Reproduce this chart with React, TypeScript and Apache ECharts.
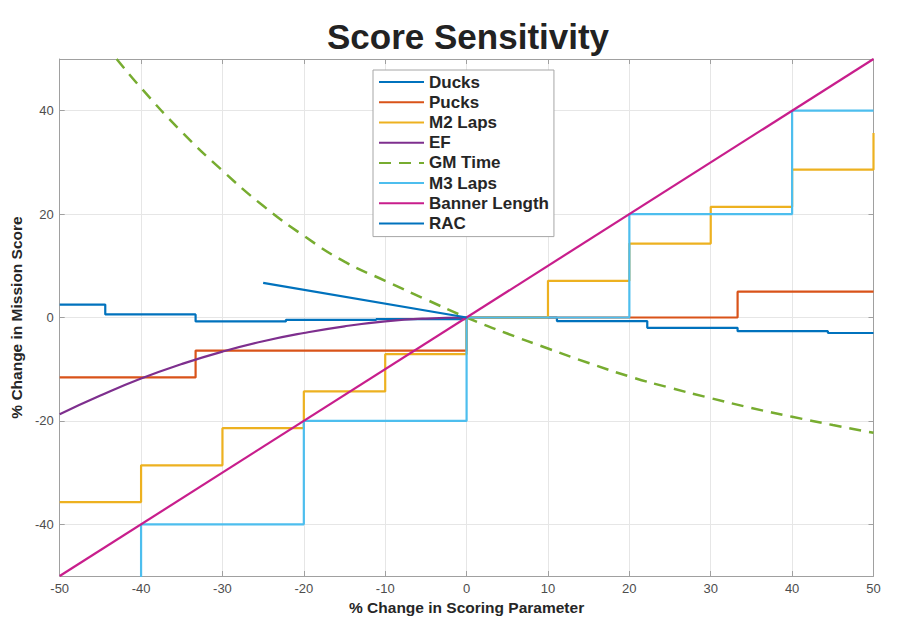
import React, { useEffect, useRef } from "react";
import * as echarts from "echarts";

// ---- data ----
const seriesNames = ["Ducks", "Pucks", "M2 Laps", "EF", "GM Time", "M3 Laps", "Banner Length", "RAC"];

const ducksX = [-50, -44.4, -33.3, -22.2, -11.1, 0, 11.1, 22.2, 33.3, 44.4, 50];
const ducksY = [2.5, 0.6, -0.75, -0.45, -0.3, 0, -0.7, -2.0, -2.65, -3.0, -3.0];

const pucksX = [-50, -33.3, 0, 33.3, 50];
const pucksY = [-11.6, -6.4, 0, 5.0, 5.0];

const m2X = [-50, -40, -30, -20, -10, 0, 10, 20, 30, 40, 50];
const m2Y = [-35.7, -28.6, -21.4, -14.3, -7.1, 0, 7.1, 14.3, 21.4, 28.6, 35.7];

const efX = [-50, -45, -40, -35, -30, -25, -20, -15, -10, -5, 0];
const efY = [-18.7, -15.1, -11.8, -9.0, -6.6, -4.6, -3.0, -1.7, -0.75, -0.2, 0];

const gmX = [-43, -40, -35, -30, -25, -20, -15, -10, -5, 0, 5, 10, 15, 20, 25, 30, 35, 40, 45, 50];
const gmY = [50, 44.4, 35.9, 28.4, 21.6, 15.8, 10.8, 7.1, 3.5, 0, -3.1, -6.0, -8.8, -11.4, -13.6, -15.6, -17.5, -19.2, -20.8, -22.3];

const m3X = [-50, -40, -20, 0, 20, 40, 50];
const m3Y = [-60, -40, -20, 0, 20, 40, 40];

const bannerX = [-50, 50];
const bannerY = [-50, 50];

const racX = [-25, 0];
const racY = [6.7, 0];

const xTicks = [-50, -40, -30, -20, -10, 0, 10, 20, 30, 40, 50];
const yTicks = [-40, -20, 0, 20, 40];

const colors = ["#0072BD", "#D95319", "#EDB120", "#7E2F8E", "#77AC30", "#4DBEEE", "#C81E8C", "#0072BD"];

const pts = (xs: number[], ys: number[]) => xs.map((x, i) => [x, ys[i]]);

export default function App() {
  const ref = useRef<HTMLDivElement>(null);
  useEffect(() => {
    document.body.style.margin = "0";
    const chart = echarts.init(ref.current!, null, { renderer: "svg" });
    const font = '"Liberation Sans", Arial, Helvetica, sans-serif';
    const axisGray = "#a0a0a0";
    const gridGray = "#e6e6e6";
    const dataSets = [
      { x: ducksX, y: ducksY, step: "end" },
      { x: pucksX, y: pucksY, step: "end" },
      { x: m2X, y: m2Y, step: "end" },
      { x: efX, y: efY, smooth: true },
      { x: gmX, y: gmY, smooth: true, dashed: true },
      { x: m3X, y: m3Y, step: "end" },
      { x: bannerX, y: bannerY },
      { x: racX, y: racY },
    ];
    const series = dataSets.map((d: any, i) => ({
      name: seriesNames[i],
      type: "line",
      xAxisIndex: 0,
      yAxisIndex: 0,
      data: pts(d.x, d.y),
      step: d.step || false,
      smooth: d.smooth || false,
      symbol: "none",
      clip: true,
      color: colors[i],
      lineStyle: {
        color: colors[i],
        width: d.dashed ? 2.5 : 2.2,
        type: d.dashed ? [12, 8] : "solid",
      },
    }));
    chart.setOption({
      animation: false,
      backgroundColor: "#ffffff",
      textStyle: { fontFamily: font },
      title: {
        text: "Score Sensitivity",
        left: 322,
        top: 14,
        textStyle: { fontSize: 35, fontWeight: "bold", color: "#222222", fontFamily: font },
      },
      grid: { left: 55, right: 48.5, top: 59, bottom: 58, containLabel: false },
      legend: {
        data: seriesNames,
        orient: "vertical",
        left: 373,
        top: 70,
        padding: [2, 5, 3, 5],
        itemGap: 0,
        itemWidth: 45,
        itemHeight: 10,
        backgroundColor: "#ffffff",
        borderColor: "#a6a6a6",
        borderWidth: 1,
        itemStyle: { opacity: 0, borderWidth: 0 },
        textStyle: { fontSize: 17, lineHeight: 20.2, fontWeight: "bold", color: "#262626", fontFamily: font },
      },
      xAxis: [
        {
          type: "value",
          position: "bottom",
          min: -50,
          max: 50,
          interval: 10,
          name: "% Change in Scoring Parameter",
          nameLocation: "middle",
          nameGap: 22,
          nameTextStyle: { fontSize: 15.5, fontWeight: "bold", color: "#262626" },
          axisLine: { show: true, onZero: false, lineStyle: { color: axisGray } },
          axisTick: { show: true, inside: true, length: 5, lineStyle: { color: axisGray } },
          axisLabel: { color: "#4d4d4d", fontSize: 13, margin: 6, customValues: xTicks },
          splitLine: { show: true, lineStyle: { color: gridGray } },
        },
        {
          type: "value",
          position: "top",
          min: -50,
          max: 50,
          interval: 10,
          axisLine: { show: true, onZero: false, lineStyle: { color: axisGray } },
          axisTick: { show: true, inside: true, length: 5, lineStyle: { color: axisGray } },
          axisLabel: { show: false },
          splitLine: { show: false },
        },
      ],
      yAxis: [
        {
          type: "value",
          position: "left",
          min: -50,
          max: 50,
          name: "% Change in Mission Score",
          nameLocation: "middle",
          nameGap: 30,
          nameTextStyle: { fontSize: 15.5, fontWeight: "bold", color: "#262626" },
          axisLine: { show: true, onZero: false, lineStyle: { color: axisGray } },
          axisTick: { show: true, inside: true, length: 5, customValues: yTicks, lineStyle: { color: axisGray } },
          axisLabel: { color: "#4d4d4d", fontSize: 13, margin: 6, customValues: yTicks },
          splitLine: { show: true, customValues: yTicks, lineStyle: { color: gridGray } },
        },
        {
          type: "value",
          position: "right",
          min: -50,
          max: 50,
          axisLine: { show: true, onZero: false, lineStyle: { color: axisGray } },
          axisTick: { show: true, inside: true, length: 5, customValues: yTicks, lineStyle: { color: axisGray } },
          axisLabel: { show: false },
          splitLine: { show: false },
        },
      ],
      series,
    } as any);
    return () => chart.dispose();
  }, []);
  return <div ref={ref} style={{ position: "fixed", left: 0, top: 0, width: 922, height: 634 }} />;
}
